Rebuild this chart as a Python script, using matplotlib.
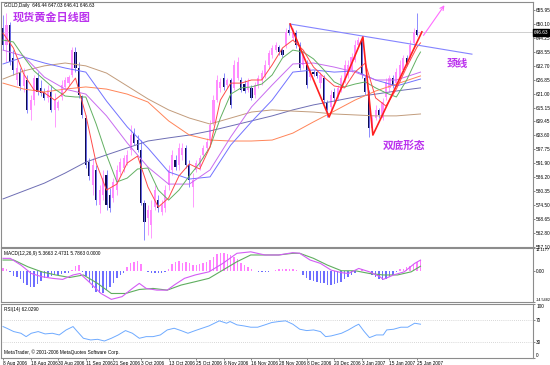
import matplotlib
matplotlib.use("Agg")
import matplotlib.pyplot as plt
import numpy as np

plt.rcParams['font.family'] = ['Liberation Sans', 'DejaVu Sans']
CJK = ['Noto Sans CJK SC', 'DejaVu Sans']

# ---- daily OHLC, 8 Aug 2006 .. 26 Jan 2007 ----
opens = [648.4, 641.3, 649.7, 635.9, 626.7, 630.0, 624.2, 626.7, 614.2, 618.3,
         627.5, 623.4, 621.7, 619.2, 621.7, 614.2, 615.0, 619.6, 623.8, 625.4,
         628.8, 638.4, 631.7, 620.0, 610.8, 592.4, 582.8, 589.1, 574.5, 578.6,
         587.0, 578.6, 577.4, 580.7, 588.3, 589.9, 592.0, 597.5, 604.6, 601.6,
         597.5, 575.3, 569.0, 566.1, 573.6, 576.5, 571.5, 573.2, 582.8, 589.1,
         593.3, 591.2, 595.4, 598.3, 591.2, 582.0, 589.1, 590.3, 595.4, 598.3,
         601.6, 608.7, 618.3, 623.4, 627.5, 624.6, 626.7, 623.4, 627.5, 626.7,
         625.0, 622.5, 623.4, 620.4, 624.6, 626.7, 628.8, 633.0, 637.2, 639.2,
         640.5, 639.2, 641.3, 647.6, 644.3, 646.3, 641.3, 633.0, 633.0, 628.0,
         630.0, 630.0, 625.4, 627.5, 617.1, 615.4, 621.7, 619.6, 622.5, 626.7,
         628.8, 630.9, 635.1, 641.3, 643.4, 627.5, 621.7, 606.6, 610.8, 614.2,
         610.8, 619.6, 623.4, 627.5, 625.4, 627.5, 630.9, 635.9, 636.3, 642.2,
         647.6, 646.44]
highs = [653.9, 654.7, 650.9, 639.2, 635.1, 631.7, 631.7, 628.8, 620.4, 628.8,
         630.0, 626.7, 623.4, 624.6, 624.6, 621.3, 618.3, 626.7, 628.0, 628.8,
         640.5, 640.5, 634.2, 620.4, 612.1, 594.1, 594.1, 591.2, 582.8, 589.1,
         589.1, 581.6, 585.7, 591.2, 594.1, 595.4, 597.5, 607.9, 606.6, 603.7,
         601.6, 576.5, 574.5, 576.5, 582.8, 578.6, 576.5, 582.8, 591.2, 597.5,
         595.4, 600.4, 600.4, 599.5, 593.3, 587.8, 593.3, 595.4, 599.5, 602.5,
         610.0, 620.4, 628.8, 627.5, 629.6, 627.5, 627.5, 635.1, 636.3, 628.0,
         626.7, 627.5, 624.6, 625.9, 628.8, 630.9, 635.1, 639.2, 641.3, 642.6,
         641.3, 640.1, 648.4, 650.1, 648.4, 647.6, 642.6, 639.2, 635.1, 631.7,
         630.9, 630.9, 630.0, 628.8, 618.3, 622.5, 623.4, 624.6, 628.8, 635.1,
         635.1, 638.0, 643.4, 644.7, 644.7, 628.8, 622.5, 612.1, 616.3, 615.0,
         619.2, 627.5, 628.8, 628.8, 631.7, 635.1, 637.2, 637.2, 643.4, 648.4,
         654.7, 647.03]
lows = [639.2, 634.2, 633.0, 628.8, 624.6, 622.5, 621.7, 612.9, 610.0, 616.3,
        620.4, 620.0, 618.3, 617.5, 613.3, 607.1, 614.2, 618.3, 622.5, 624.6,
        628.0, 630.0, 619.2, 610.8, 589.9, 584.9, 578.6, 574.5, 571.1, 576.5,
        572.4, 571.5, 575.7, 578.6, 587.0, 588.3, 591.2, 595.4, 599.5, 596.6,
        574.5, 559.8, 561.9, 560.7, 572.4, 571.5, 570.3, 571.5, 580.7, 587.0,
        589.1, 589.1, 593.3, 589.9, 582.0, 573.6, 588.3, 589.1, 594.1, 597.5,
        600.4, 607.9, 617.5, 621.7, 622.5, 623.4, 615.0, 622.5, 626.7, 621.7,
        621.3, 621.7, 618.3, 619.2, 623.4, 624.6, 627.5, 631.7, 635.9, 638.4,
        637.2, 636.3, 640.1, 645.5, 643.4, 640.1, 630.9, 631.7, 623.4, 626.7,
        628.4, 627.5, 623.4, 617.1, 611.2, 614.2, 617.5, 618.3, 621.7, 625.4,
        627.5, 630.0, 634.2, 640.5, 627.5, 620.4, 602.9, 604.6, 610.0, 610.8,
        610.0, 618.3, 621.7, 623.4, 624.6, 625.9, 630.0, 632.5, 635.1, 640.9,
        645.1, 646.41]
closes = [641.3, 649.7, 634.2, 630.9, 631.7, 624.2, 628.8, 614.2, 618.3, 627.5,
          621.7, 621.3, 619.2, 622.5, 614.2, 618.3, 617.5, 624.6, 626.7, 628.0,
          639.2, 631.7, 620.4, 612.1, 591.2, 586.6, 591.2, 576.5, 580.7, 585.7,
          574.5, 573.2, 584.1, 589.1, 592.4, 594.1, 595.4, 603.7, 600.4, 597.5,
          575.3, 567.4, 572.4, 572.4, 580.7, 573.2, 574.5, 580.7, 589.1, 595.4,
          590.3, 598.3, 598.3, 591.2, 584.9, 584.9, 592.0, 594.1, 598.3, 600.8,
          607.9, 618.3, 626.7, 625.9, 623.8, 626.7, 616.3, 633.0, 634.2, 622.5,
          622.1, 625.9, 619.2, 624.6, 627.5, 629.6, 633.0, 638.0, 640.1, 641.3,
          638.4, 637.2, 646.8, 646.3, 646.8, 641.3, 631.7, 637.2, 624.6, 630.0,
          629.2, 628.4, 628.8, 618.3, 614.2, 620.4, 619.2, 623.4, 627.5, 633.0,
          633.0, 636.3, 641.3, 643.4, 628.8, 621.7, 606.6, 610.8, 614.2, 612.1,
          617.5, 625.9, 627.5, 624.6, 630.0, 633.0, 635.9, 633.0, 641.3, 646.8,
          645.5, 646.63]
last_price = 646.63

# ---- moving averages (read at every 3rd / 6th bar) ----
ma_fast_bars = list(range(0, 121, 3)) + [121]
ma_red = [646.3, 640.1, 629.2, 622.5, 621.3, 618.3, 621.7, 627.5, 612.1, 592.0,
          580.7, 583.2, 592.0, 594.9, 582.0, 573.6, 577.4, 586.6, 591.6, 589.5,
          598.7, 618.3, 625.4, 625.4, 626.7, 626.7, 633.0, 640.1, 643.4, 639.2,
          632.1, 627.9, 624.2, 623.4, 630.0, 633.8, 619.2, 615.8, 622.9, 632.1,
          640.5, 642.2]
ma_green = [643.4, 642.6, 636.3, 630.5, 626.7, 622.9, 620.0, 619.6, 619.6, 608.3,
            595.4, 584.1, 585.7, 589.5, 589.9, 580.7, 576.5, 580.7, 586.6, 592.0,
            598.7, 610.8, 620.8, 623.4, 623.8, 625.0, 628.8, 635.9, 639.2, 638.4,
            635.5, 630.9, 625.9, 623.8, 625.0, 625.9, 623.4, 621.3, 619.6, 626.7,
            635.9, 638.4]
ma_slow_bars = list(range(0, 115, 6)) + [121]
ma_violet = [639.2, 636.7, 627.9, 622.9, 620.8, 611.7, 600.4, 590.3, 583.2, 583.2,
             589.1, 602.9, 615.4, 624.6, 633.4, 633.8, 632.1, 630.0, 626.7, 626.7, 630.0]
ma_blue = [633.4, 636.3, 633.8, 631.7, 630.0, 617.9, 607.1, 598.3, 588.3, 585.3,
           586.2, 599.5, 609.2, 618.3, 630.0, 630.9, 630.0, 630.5, 626.7, 624.2, 627.1]
ma_orange = [625.4, 622.9, 621.7, 622.9, 623.8, 622.9, 620.8, 617.5, 609.6, 603.7,
             601.6, 601.2, 601.2, 601.6, 604.5, 609.2, 613.7, 618.3, 622.1, 625.0, 628.4]
ma_brown = [627.1, 630.5, 632.6, 633.8, 632.6, 629.6, 624.2, 618.8, 614.2, 610.8,
            608.3, 610.8, 613.3, 614.2, 613.7, 613.3, 612.5, 612.1, 611.7, 611.7, 612.5]
ma_slate = [577.0, 580.3, 583.6, 587.8, 592.4, 595.4, 598.3, 601.2, 602.5, 603.7,
            605.4, 607.5, 609.6, 611.7, 614.2, 616.3, 617.9, 619.6, 620.8, 622.1, 623.4]

# ---- hand-drawn pattern lines ----
zigzag_bars = [83.2, 94.5, 104.3, 107.2, 121.4]
zigzag_prices = [650.1, 611.2, 644.7, 603.7, 646.8]
neck_bars = [83.2, 135.9]
neck_prices = [650.1, 637.5]
arrow_bars = [121.4, 128.4]
arrow_prices = [644.4, 658.9]

# ---- MACD(12,26,9) ----
macd_hist = [1.4, 1.0, -0.3, -2.2, -2.9, -3.8, -5.4, -6.5, -7.3, -7.6,
             -6.0, -4.4, -3.2, -2.5, -2.2, -1.9, -1.6, -1.1, -1.0, -0.6,
             0.6, 2.5, 3.0, -0.2, -2.2, -4.9, -8.1, -9.7, -10.5, -10.1,
             -8.9, -7.3, -5.4, -3.3, -1.6, -0.6, 2.2, 3.8, 4.6, 5.1,
             3.5, 0.3, -0.3, -0.8, -0.8, -0.6, -0.6, -0.2, 1.0, 3.5,
             4.6, 4.8, 4.1, 4.4, 3.8, 3.2, 3.2, 3.5, 3.8, 4.4,
             5.4, 7.0, 8.2, 8.6, 8.6, 8.2, 7.6, 6.7, 5.7, 4.1,
             2.9, 1.9, 1.0, 0.3, -0.5, -0.3, -0.5, -0.3, 0.2, 0.6,
             1.0, 1.0, 1.3, 1.0, 1.0, 0.6, 0.3, -1.7, -3.3, -4.1,
             -4.8, -5.1, -5.4, -5.7, -6.5, -6.7, -6.2, -5.7, -4.9, -3.8,
             -2.5, -1.6, -0.6, 0.3, 1.0, 0.6, -0.3, -1.6, -2.5, -3.5,
             -4.1, -3.8, -2.9, -1.6, -0.3, 1.0, 1.3, 1.9, 2.5, 3.5,
             4.4, 5.4]
macd_main_bars = [0, 2.1, 5.2, 8.2, 11.2, 14.3, 17.3, 20.3, 22.3, 25.4, 28.4, 31.4,
                  34.5, 37.5, 39.5, 41.5, 44.6, 47.6, 49.6, 52.6, 55.7, 59.7, 63.7,
                  67.8, 71.8, 75.9, 79.9, 84.0, 86.0, 89.0, 92.0, 95.1, 98.1, 100.1,
                  103.1, 106.2, 109.2, 110.2, 113.2, 116.3, 119.3, 121]
macd_main = [6.2, 6.2, 3.0, -1.0, -2.5, -3.3, -3.8, -1.7, -1.0, -5.7, -10.5, -13.3,
             -12.0, -8.1, -5.7, -8.1, -8.9, -8.9, -6.5, -3.3, -1.7, -0.2, 3.8,
             8.6, 9.3, 7.8, 7.8, 8.9, 8.6, 5.4, 3.8, 0.6, -0.6, -1.0,
             1.4, -0.2, -2.5, -3.8, -1.7, -0.2, 3.8, 5.37]
macd_sig_bars = [0, 3.1, 7.2, 11.2, 15.3, 19.3, 23.3, 27.4, 31.4, 35.5, 39.5, 43.5,
                 47.6, 51.6, 55.7, 59.7, 63.7, 67.8, 71.8, 75.9, 79.9, 84.0, 86.0,
                 90.0, 94.0, 98.1, 102.1, 106.2, 110.2, 114.3, 118.3, 121]
macd_sig = [5.4, 5.4, 2.2, -0.2, -1.7, -2.9, -1.7, -5.7, -10.5, -10.5, -8.6, -8.1,
            -8.9, -6.5, -4.9, -3.3, 0.6, 4.6, 7.8, 7.8, 7.8, 8.6, 8.6,
            6.2, 3.0, 0.3, 0.3, -1.0, -1.7, -1.7, -0.2, 2.47]

# ---- RSI(14) ----
rsi_bars = [0, 1.1, 3.1, 5.2, 6.7, 8.2, 10.2, 12.2, 14.3, 16.3, 18.3, 19.3, 20.3,
            21.3, 23.3, 25.4, 27.4, 29.4, 31.4, 33.4, 35.5, 37.5, 39.5, 41.5,
            43.5, 45.6, 47.6, 49.6, 51.6, 53.6, 55.7, 57.7, 59.7, 61.7, 62.7,
            64.8, 65.8, 67.8, 69.8, 71.8, 73.8, 75.9, 77.9, 79.9, 81.9, 84.0,
            86.0, 88.0, 90.0, 92.0, 93.5, 95.1, 98.1, 100.1, 102.1, 103.1,
            104.7, 106.2, 108.2, 110.2, 111.2, 113.2, 115.3, 117.3, 119.3, 121]
rsi = [57.7, 54.6, 48.5, 45.4, 39.2, 45.4, 48.5, 44.2, 45.4, 42.3, 51.5, 54.6, 57.7,
       50.3, 36.2, 33.1, 34.3, 31.2, 36.2, 42.3, 50.3, 45.4, 36.2, 39.2,
       39.2, 42.3, 51.5, 54.6, 50.3, 45.4, 50.3, 54.6, 58.9, 65.1, 68.2,
       63.8, 66.9, 60.8, 58.9, 56.5, 56.5, 60.8, 65.1, 66.9, 68.2, 62.0,
       52.8, 50.3, 51.5, 48.5, 39.2, 40.5, 45.4, 51.5, 58.9, 62.0,
       48.5, 37.4, 42.3, 42.3, 51.5, 52.8, 56.5, 56.5, 63.8, 62.03]

price_ticks = [655.95, 650.10, 644.25, 638.55, 632.70, 626.85, 621.00, 615.15, 609.45,
               603.60, 597.75, 591.90, 586.20, 580.35, 574.50, 568.65, 562.80, 557.10]
date_labels = ["8 Aug 2006", "18 Aug 2006", "30 Aug 2006", "11 Sep 2006", "21 Sep 2006",
               "3 Oct 2006", "13 Oct 2006", "25 Oct 2006", "6 Nov 2006", "16 Nov 2006",
               "28 Nov 2006", "8 Dec 2006", "20 Dec 2006", "3 Jan 2007", "15 Jan 2007",
               "25 Jan 2007"]

BULL = "#ff8cff"
BEAR = "#0c0c52"
BEAR_WICK = "#7a7aff"
FRAME = "#8c8c8c"
NOTE = "#bb33ee"
TINY = 3.4

W, H = 550, 365
fig = plt.figure(figsize=(W / 100, H / 100), dpi=100)


def panel(top, bottom):
    ax = fig.add_axes([1 / W, 1 - bottom / H, 532 / W, (bottom - top) / H])
    ax.set_xlim(-0.58, 153.6)
    for s in ax.spines.values():
        s.set_color(FRAME)
        s.set_linewidth(0.8)
    ax.yaxis.tick_right()
    ax.tick_params(axis="y", length=1.5, width=0.5, color="#555555", labelsize=TINY, pad=0.8)
    ax.tick_params(axis="x", length=0)
    ax.set_xticks([])
    return ax


# ── price panel ──
ax1 = panel(2, 247)
ax1.set_ylim(556.9, 659.3)
o, h, l, c = map(np.array, (opens, highs, lows, closes))
x = np.arange(len(c))
up = c >= o
ax1.axhline(last_price, color="#c8c8c8", lw=0.6, zorder=0)
ax1.vlines(x[up], l[up], h[up], color=BULL, lw=0.6)
ax1.vlines(x[~up], l[~up], h[~up], color=BEAR_WICK, lw=0.6)
ax1.bar(x[up], np.maximum(c - o, 0.3)[up], bottom=o[up], width=0.62, color=BULL, lw=0)
ax1.bar(x[~up], np.maximum(o - c, 0.3)[~up], bottom=c[~up], width=0.62, color=BEAR, lw=0)

ax1.plot(ma_slow_bars, ma_slate, color="#6e6eb4", lw=0.7)
ax1.plot(ma_slow_bars, ma_brown, color="#c29c7c", lw=0.7)
ax1.plot(ma_slow_bars, ma_orange, color="#ff8458", lw=0.7)
ax1.plot(ma_slow_bars, ma_blue, color="#7272ff", lw=0.7)
ax1.plot(ma_slow_bars, ma_violet, color="#c86cf0", lw=0.7)
ax1.plot(ma_fast_bars, ma_green, color="#62b062", lw=0.7)
ax1.plot(ma_fast_bars, ma_red, color="#ff4a4a", lw=0.7)

ax1.plot(neck_bars, neck_prices, color="#8484ff", lw=0.8)
ax1.plot(zigzag_bars, zigzag_prices, color="#ff2020", lw=1.2)
ax1.annotate("", xy=(arrow_bars[1], arrow_prices[1]), xytext=(arrow_bars[0], arrow_prices[0]),
             arrowprops=dict(arrowstyle="->", color="#ff6cff", lw=0.8, mutation_scale=7))

ax1.set_yticks(price_ticks)
ax1.set_yticklabels([f"{p:.2f}" for p in price_ticks])
ax1.text(1.002, last_price, f"{last_price:.2f}", transform=ax1.get_yaxis_transform(),
         fontsize=TINY, color="white", va="center", ha="left",
         bbox=dict(boxstyle="square,pad=0.15", fc="black", ec="black"))

ax1.text(14.2, 653.0, "现货黄金日线图", family=CJK, fontsize=8, fontweight="bold",
         color=NOTE, ha="center", va="center")
ax1.text(131.6, 633.4, "颈线", family=CJK, fontsize=7.7, fontweight="bold",
         color=NOTE, ha="center", va="center")
ax1.text(116.2, 599.1, "双底形态", family=CJK, fontsize=7.7, fontweight="bold",
         color=NOTE, ha="center", va="center")

# ── MACD panel ──
ax2 = panel(248, 302)
ax2.set_ylim(-14.5482, 11.1177)
hist = np.array(macd_hist)
hx = np.arange(len(hist))
ax2.bar(hx, hist, width=0.42, color=np.where(hist >= 0, "#ff80ff", "#6e6eff"), lw=0)
ax2.plot(macd_sig_bars, macd_sig, color="#5fae5f", lw=0.8)
ax2.plot(macd_main_bars, macd_main, color="#d35cf5", lw=0.8)
ax2.set_yticks([11.1177, 0.0, -14.5482])
ax2.set_yticklabels(["11.1177", "0.00", "-14.5482"])
tl = ax2.get_yticklabels()
tl[0].set_va("top")
tl[0].set_fontsize(3.0)
tl[2].set_va("bottom")
tl[2].set_fontsize(2.7)
ax2.tick_params(axis="y", pad=0.3)

# ── RSI panel ──
ax3 = panel(303.5, 358)
ax3.set_ylim(0, 100)
ax3.axhline(70, color="#b4b4b4", lw=0.5, ls=(0, (1, 2)))
ax3.axhline(30, color="#b4b4b4", lw=0.5, ls=(0, (1, 2)))
ax3.plot(rsi_bars, rsi, color="#6eaaff", lw=0.7)
ax3.set_yticks([100, 70, 30, 0])
ax3.set_yticklabels(["100", "70", "30", "0"])
tl = ax3.get_yticklabels()
tl[0].set_va("top")
tl[3].set_va("bottom")
ax3.set_xticks(range(0, 121, 8))
ax3.set_xticklabels(date_labels, ha="left")
ax3.tick_params(axis="x", length=1.5, width=0.5, color="#555555", labelsize=TINY, pad=0.5)

# ── header texts ──
fig.text(4 / W, 1 - 5 / H, "GOLD,Daily  646.44 647.03 646.41 646.63", fontsize=TINY, va="center")
fig.text(4 / W, 1 - 253 / H, "MACD(12,26,9) 5.3663 2.4731 5.7863 0.0000", fontsize=TINY, va="center")
fig.text(4 / W, 1 - 309 / H, "RSI(14) 62.0290", fontsize=TINY, va="center")
fig.text(4 / W, 1 - 352 / H, "MetaTrader, © 2001-2006 MetaQuotes Software Corp.",
         fontsize=TINY, va="center")

fig.savefig("out.png", dpi=100, facecolor="white")
